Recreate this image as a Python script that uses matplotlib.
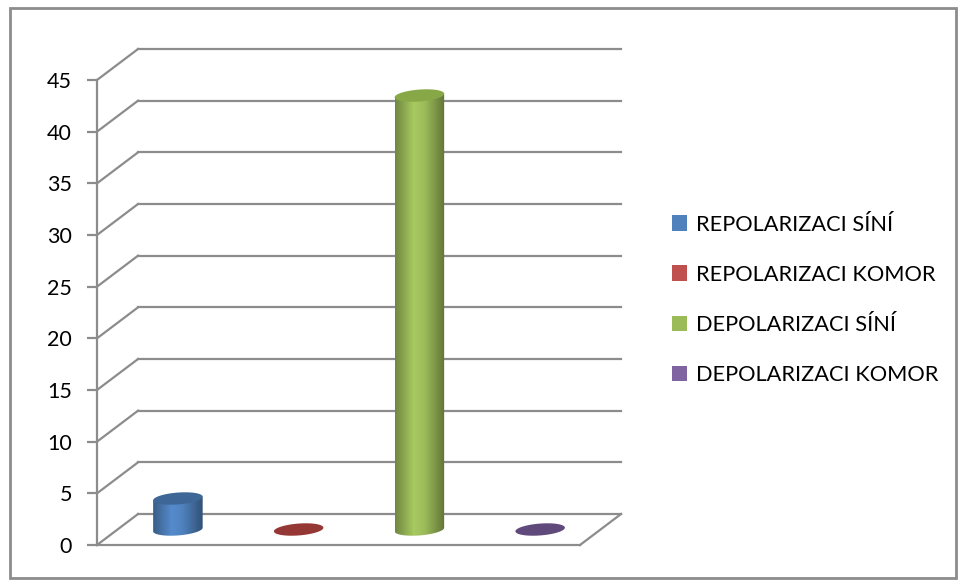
import numpy as np
import matplotlib.pyplot as plt
from matplotlib.patches import Rectangle, Polygon, Patch
from matplotlib.colors import LinearSegmentedColormap, to_rgb

categories = ["REPOLARIZACI SÍNÍ", "REPOLARIZACI KOMOR",
              "DEPOLARIZACI SÍNÍ", "DEPOLARIZACI KOMOR"]
values = [3, 0, 42, 0]
yticks = list(range(0, 50, 5))

colors = ["#4f81bd", "#c0504d", "#9bbb59", "#8064a2"]
top_colors = ["#3e6798", "#953735", "#88a848", "#604a7b"]

plt.rcParams['font.family'] = ['Lato', 'DejaVu Sans']

fig = plt.figure(figsize=(9.58, 5.81), dpi=100)

# outer chart border
fig.patches.append(Rectangle((10 / 958, 3 / 581), 946 / 958, 570 / 581,
                             transform=fig.transFigure, fill=False,
                             edgecolor="#8c8c8c", linewidth=2))

# front plane of the 3D box
ax = fig.add_axes([97 / 958, 36 / 581, 483 / 958, 465 / 581])
ax.set_xlim(-0.5, 3.5)
ax.set_ylim(0, 45)

grid_c = "#8c8c8c"
DX, DY = 0.34, 3.0   # depth offset of the back wall, in data units

for s in ["top", "right"]:
    ax.spines[s].set_visible(False)
for s in ["left", "bottom"]:
    ax.spines[s].set_color(grid_c)
    ax.spines[s].set_linewidth(1.6)
ax.set_xticks([])
ax.set_yticks(yticks)
ax.tick_params(axis="y", length=7, width=1.6, color=grid_c, pad=11,
               labelsize=15.5)
ax.patch.set_visible(False)

# back wall gridlines and side-wall diagonals
for v in yticks:
    ax.plot([-0.5 + DX, 3.5 + DX], [v + DY, v + DY], color=grid_c,
            lw=1.6, clip_on=False, zorder=1)
    ax.plot([-0.5, -0.5 + DX], [v, v + DY], color=grid_c,
            lw=1.6, clip_on=False, zorder=1)
# right edge of the floor
ax.plot([3.5, 3.5 + DX], [0, DY], color=grid_c, lw=1.6, clip_on=False,
        zorder=1)


def shade(c, f):
    r, g, b = to_rgb(c)
    return (min(r * f, 1), min(g * f, 1), min(b * f, 1))


W = 0.41     # cylinder width (x units)
EH = 1.15    # ellipse height (y units)
TILT = 0.35  # rise of the ellipse from left to right (y units)
t = np.linspace(0, 2 * np.pi, 120)

for i, (v, c, tc) in enumerate(zip(values, colors, top_colors)):
    cx = i + DX / 2
    base = DY / 2
    ex = cx + W / 2 * np.cos(t)
    ey_off = EH / 2 * np.sin(t) + TILT * (ex - cx) / W
    if v > 0:
        # body: straight sides plus lower half of the base ellipse
        lower = t[(t >= np.pi)]
        bx = cx + W / 2 * np.cos(lower)
        by = base + EH / 2 * np.sin(lower) + TILT * (bx - cx) / W
        px = np.concatenate([[cx - W / 2], bx, [cx + W / 2]])
        py = np.concatenate([[base + v - TILT / 2], by, [base + v + TILT / 2]])
        body = Polygon(np.column_stack([px, py]), closed=True,
                       facecolor="none", edgecolor="none")
        ax.add_patch(body)
        cmap = LinearSegmentedColormap.from_list(
            "cyl", [(0, shade(c, 0.72)), (0.38, shade(c, 1.08)),
                    (0.6, shade(c, 1.0)), (1, shade(c, 0.62))])
        grad = np.linspace(0, 1, 256).reshape(1, -1)
        im = ax.imshow(grad, cmap=cmap, aspect="auto",
                       extent=(cx - W / 2, cx + W / 2, base - EH,
                               base + v + EH), zorder=3,
                       interpolation="bilinear")
        im.set_clip_path(body)
    top = Polygon(np.column_stack([ex, base + v + ey_off]), closed=True,
                  facecolor=tc, edgecolor="none", zorder=4)
    ax.add_patch(top)

ax.set_xlim(-0.5, 3.5)
ax.set_ylim(0, 45)

handles = [Patch(facecolor=c, edgecolor="none") for c in colors]
fig.legend(handles, categories, loc="upper left",
           bbox_to_anchor=(652 / 958, 1 - 195 / 581), frameon=False,
           fontsize=15.7, handlelength=0.7, handleheight=0.7,
           handletextpad=0.4, labelspacing=1.38)

fig.savefig("out.png", dpi=100)
